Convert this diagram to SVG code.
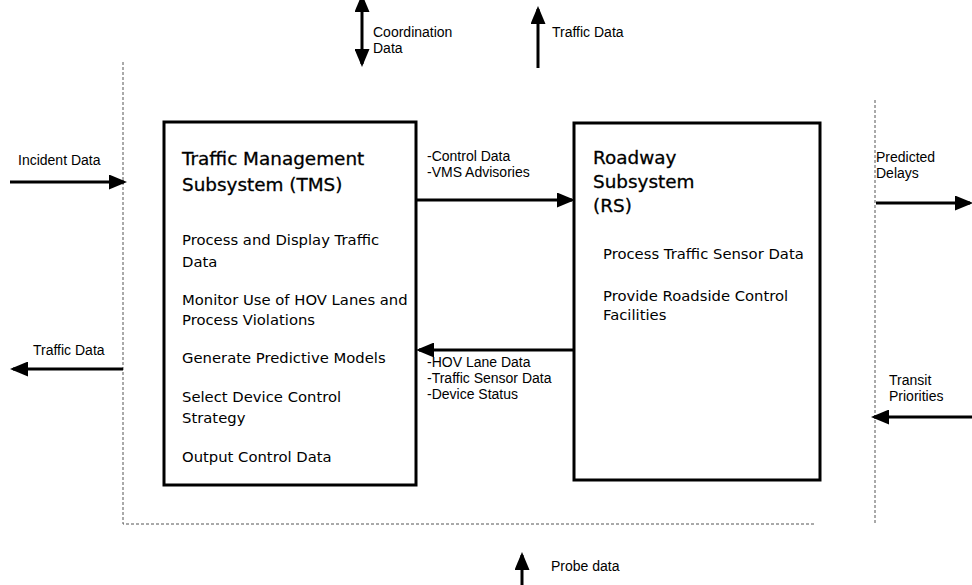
<svg xmlns="http://www.w3.org/2000/svg" width="972" height="585" viewBox="0 0 972 585">
<style>
.lbl{font-family:"Liberation Sans",Arial,sans-serif;font-size:14px;fill:#000}
.ttl{font-family:"DejaVu Sans","Noto Sans",sans-serif;font-size:18.4px;fill:#000;stroke:#000;stroke-width:0.3}
.bd{font-family:"DejaVu Sans","Noto Sans",sans-serif;font-size:14.8px;fill:#000}
.box{fill:#fff;stroke:#000;stroke-width:3}
.ln{stroke:#000;stroke-width:3;fill:none}
.bnd{stroke:#555;stroke-width:1;fill:none;stroke-dasharray:3 2}
</style>
<defs>
<marker id="ah" markerWidth="6" markerHeight="5" refX="5" refY="2.5" orient="auto" markerUnits="strokeWidth"><path d="M0,0 L6,2.5 L0,5 z" fill="#000"/></marker>
<marker id="ahs" markerWidth="6" markerHeight="5" refX="1" refY="2.5" orient="auto-start-reverse" markerUnits="strokeWidth"><path d="M0,0 L6,2.5 L0,5 z" fill="#000"/></marker>
</defs>
<rect width="972" height="585" fill="#fff"/>
<g id="boundary">
<path class="bnd" d="M123,62 V524 H815"/>
<path class="bnd" d="M875,100 V525" stroke-dasharray="2 14"/>
</g>
<g id="tms">
<rect class="box" x="164" y="122" width="252" height="363"/>
<text class="ttl" x="182" y="165">Traffic Management</text>
<text class="ttl" x="182" y="191">Subsystem (TMS)</text>
<text class="bd" x="182" y="245">Process and Display Traffic</text>
<text class="bd" x="182" y="267">Data</text>
<text class="bd" x="182" y="305">Monitor Use of HOV Lanes and</text>
<text class="bd" x="182" y="325">Process Violations</text>
<text class="bd" x="182" y="363">Generate Predictive Models</text>
<text class="bd" x="182" y="402">Select Device Control</text>
<text class="bd" x="182" y="423">Strategy</text>
<text class="bd" x="182" y="462">Output Control Data</text>
</g>
<g id="rs">
<rect class="box" x="574" y="123" width="246" height="357"/>
<text class="ttl" x="593" y="164">Roadway</text>
<text class="ttl" x="593" y="188">Subsystem</text>
<text class="ttl" x="593" y="212">(RS)</text>
<text class="bd" x="603" y="259">Process Traffic Sensor Data</text>
<text class="bd" x="603" y="301">Provide Roadside Control</text>
<text class="bd" x="603" y="320">Facilities</text>
</g>
<g id="connectors">
<line class="ln" x1="417" y1="200" x2="572" y2="200" marker-end="url(#ah)"/>
<line class="ln" x1="574" y1="350" x2="419" y2="350" marker-end="url(#ah)"/>
<line class="ln" x1="10" y1="182" x2="124" y2="182" marker-end="url(#ah)"/>
<line class="ln" x1="123" y1="369" x2="13" y2="369" marker-end="url(#ah)"/>
<line class="ln" x1="362" y1="9" x2="362" y2="64" marker-start="url(#ahs)" marker-end="url(#ah)"/>
<line class="ln" x1="538" y1="68" x2="538" y2="9" marker-end="url(#ah)"/>
<line class="ln" x1="876" y1="203" x2="970" y2="203" marker-end="url(#ah)"/>
<line class="ln" x1="972" y1="417" x2="874" y2="417" marker-end="url(#ah)"/>
<line class="ln" x1="522" y1="585" x2="522" y2="555" marker-end="url(#ah)"/>
</g>
<g id="labels">
<text class="lbl" x="18" y="165">Incident Data</text>
<text class="lbl" x="33" y="355">Traffic Data</text>
<text class="lbl" x="373" y="37">Coordination</text>
<text class="lbl" x="373" y="53">Data</text>
<text class="lbl" x="552" y="37">Traffic Data</text>
<text class="lbl" x="427" y="161">-Control Data</text>
<text class="lbl" x="427" y="177">-VMS Advisories</text>
<text class="lbl" x="427" y="367">-HOV Lane Data</text>
<text class="lbl" x="427" y="383">-Traffic Sensor Data</text>
<text class="lbl" x="427" y="399">-Device Status</text>
<text class="lbl" x="876" y="162">Predicted</text>
<text class="lbl" x="876" y="178">Delays</text>
<text class="lbl" x="889" y="385">Transit</text>
<text class="lbl" x="889" y="401">Priorities</text>
<text class="lbl" x="551" y="571">Probe data</text>
</g>
</svg>
